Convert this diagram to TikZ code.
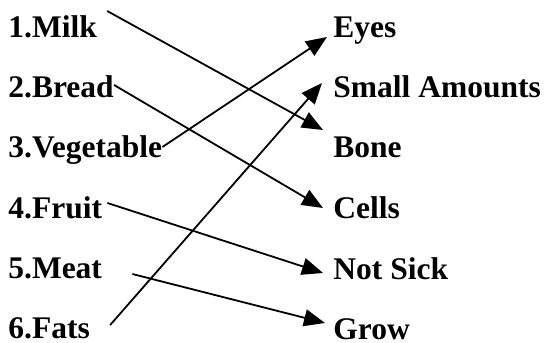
\documentclass[tikz,border=0pt]{standalone}
\usepackage{fontspec}
\setmainfont{Liberation Serif}
\usepackage{tikz}
\usetikzlibrary{arrows.meta}

\begin{document}
\begin{tikzpicture}[
    x=0.5pt, y=-0.5pt,
    lbl/.style={inner sep=0pt, anchor=base west,
    font=\fontsize{15.75}{18}\selectfont\bfseries},
    arr/.style={-{Triangle[length=10.5pt,width=8.5pt]}, line width=0.9pt}
]
\useasboundingbox (0,0) rectangle (547,343);
% foods
\node[lbl] (milk) at (8,37) {1.Milk};
\node[lbl] (bread) at (8,97) {2.Bread};
\node[lbl] (veg) at (8,157) {3.Vegetable};
\node[lbl] (fruit) at (8,218) {4.Fruit};
\node[lbl] (meat) at (8,278) {5.Meat};
\node[lbl] (fats) at (8,338) {6.Fats};
% what they do
\node[lbl] (eyes) at (333,37) {Eyes};
\node[lbl] (small) at (333,97) {Small Amounts};
\node[lbl] (bone) at (333,157) {Bone};
\node[lbl] (cells) at (333,218) {Cells};
\node[lbl] (notsick) at (333,279) {Not Sick};
\node[lbl] (grow) at (333,339) {Grow};
\draw[arr] ([shift={(10,-26)}]milk.base east) -- ([shift={(-10,-27)}]bone.base west);
\draw[arr] ([shift={(0,-12)}]bread.base east) -- ([shift={(-10,-10)}]cells.base west);
\draw[arr] ([shift={(0,-10)}]veg.base east) -- ([shift={(-6,0)}]eyes.base west);
\draw[arr] ([shift={(5,-15)}]fruit.base east) -- ([shift={(-10,-6)}]notsick.base west);
\draw[arr] ([shift={(30,-4)}]meat.base east) -- ([shift={(-8,-16)}]grow.base west);
\draw[arr] ([shift={(20,-13)}]fats.base east) -- ([shift={(-11,-14)}]small.base west);
\end{tikzpicture}
\end{document}
